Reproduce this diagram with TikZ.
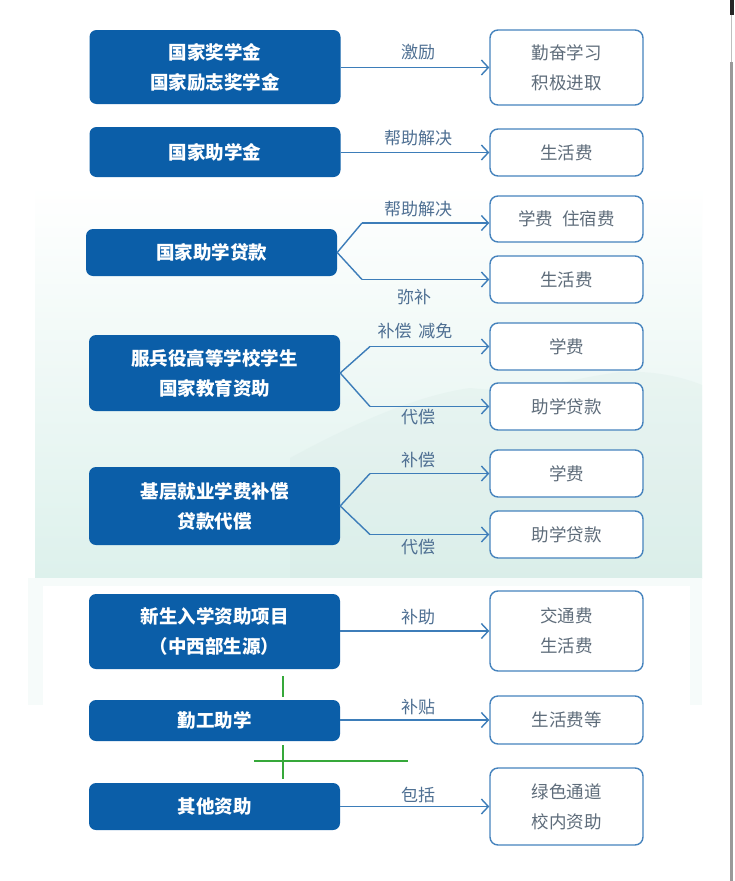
\documentclass[tikz,border=0pt]{standalone}
\usepackage{fontspec}
\setmainfont{Noto Sans CJK SC}
\usetikzlibrary{arrows.meta}
\definecolor{lblue}{HTML}{0B5EA8}
\definecolor{rborder}{HTML}{4683BD}
\definecolor{arrc}{HTML}{3D7DB9}
\definecolor{labc}{HTML}{4E6F92}
\definecolor{rtext}{HTML}{5E6C7A}
\definecolor{gline}{HTML}{36A83A}
\definecolor{mint}{HTML}{DDF1EC}
\definecolor{mintlt}{HTML}{F6FBFA}
\definecolor{hill}{HTML}{D3E6E2}
\begin{document}
\begin{tikzpicture}[x=1pt,y=-1pt,
  lbox/.style={fill=lblue, draw=none, rounded corners=7pt, text=white,
    font=\bfseries\fontsize{18.5}{30}\selectfont, align=center,
    minimum width=251pt, inner sep=0pt},
  rbox/.style={fill=white, draw=rborder, line width=1.4pt, rounded corners=8pt,
    text=rtext, font=\fontsize{17.5}{30}\selectfont, align=center,
    minimum width=153pt, inner sep=0pt},
  lab/.style={text=labc, font=\fontsize{17}{20}\selectfont, inner sep=0pt},
  arr/.style={draw=arrc, line width=1.4pt, -{Straight Barb[length=7pt,width=15pt,line width=1.4pt]}},
  gl/.style={draw=gline, line width=2pt}]
\useasboundingbox (0,0) rectangle (734,881);
\fill[white] (0,0) rectangle (734,881);
% background tint
\shade[top color=white, bottom color=mint] (35,185) rectangle (702,578);
\fill[hill, opacity=0.22] (290,458) .. controls (360,420) and (420,395) .. (470,388) .. controls (530,395) and (560,380) .. (620,372) .. controls (660,370) and (690,380) .. (702,385) -- (702,578) -- (290,578) -- cycle;
\fill[mintlt] (28,578) rectangle (702,705);
\fill[white] (43,586) rectangle (690,881);
% right edge of screenshot
\fill[black!85] (730,0) rectangle (734,15);
\draw[black!25, line width=1pt] (731.5,15) -- (731.5,62);
\draw[black!40, line width=2.5pt] (731.5,62) -- (731.5,881);

% left boxes
\node[lbox, minimum height=74pt] (L1) at (215,67) {国家奖学金\\国家励志奖学金};
\node[lbox, minimum height=50pt] (L2) at (215,152) {国家助学金};
\node[lbox, minimum height=47pt] (L3) at (211.5,252.5) {国家助学贷款};
\node[lbox, minimum height=76pt] (L4) at (214.5,373) {服兵役高等学校学生\\国家教育资助};
\node[lbox, minimum height=78pt] (L5) at (214.5,506) {基层就业学费补偿\\贷款代偿};
\node[lbox, minimum height=75pt] (L6) at (214.5,631.5) {新生入学资助项目\\（中西部生源）};
\node[lbox, minimum height=41pt] (L7) at (214.5,720.5) {勤工助学};
\node[lbox, minimum height=47pt] (L8) at (214.5,806.5) {其他资助};

% right boxes
\node[rbox, minimum height=75pt] (R1) at (566.5,67.5) {勤奋学习\\积极进取};
\node[rbox, minimum height=47pt] (R2) at (566.5,152.5) {生活费};
\node[rbox, minimum height=46pt] (R3) at (566.5,219) {学费\hspace{0.5em}住宿费};
\node[rbox, minimum height=47pt] (R4) at (566.5,279.5) {生活费};
\node[rbox, minimum height=47pt] (R5) at (566.5,346.5) {学费};
\node[rbox, minimum height=47pt] (R6) at (566.5,406.5) {助学贷款};
\node[rbox, minimum height=47pt] (R7) at (566.5,473.5) {学费};
\node[rbox, minimum height=47pt] (R8) at (566.5,534.5) {助学贷款};
\node[rbox, minimum height=80pt] (R9) at (566.5,631) {交通费\\生活费};
\node[rbox, minimum height=48pt] (R10) at (566.5,720) {生活费等};
\node[rbox, minimum height=77pt] (R11) at (566.5,806.5) {绿色通道\\校内资助};

% connectors
\draw[arr] (L1.east |- R1.west) -- (R1.west);
\draw[arr] (L2.east |- R2.west) -- (R2.west);
\draw[arr, -] (L3.east) -- (362,223);
\draw[arr] (362,223) -- (R3.west |- 0,223);
\draw[arr, -] (L3.east) -- (362,279.5);
\draw[arr] (362,279.5) -- (R4.west);
\draw[arr, -] (L4.east) -- (370,346.5);
\draw[arr] (370,346.5) -- (R5.west);
\draw[arr, -] (L4.east) -- (370,406.5);
\draw[arr] (370,406.5) -- (R6.west);
\draw[arr, -] (L5.east) -- (370,473.5);
\draw[arr] (370,473.5) -- (R7.west);
\draw[arr, -] (L5.east) -- (370,534.5);
\draw[arr] (370,534.5) -- (R8.west);
\draw[arr] (L6.east |- R9.west) -- (R9.west);
\draw[arr] (L7.east |- R10.west) -- (R10.west);
\draw[arr] (L8.east |- R11.west) -- (R11.west);

% labels
\node[lab] (t1) at (418,52) {激励};
\node[lab] (t2) at (418,138) {帮助解决};
\node[lab] (t3) at (418,209) {帮助解决};
\node[lab] (t4) at (414,297) {弥补};
\node[lab] (t5) at (415,331) {补偿\hspace{0.4em}减免};
\node[lab] (t6) at (418,417) {代偿};
\node[lab] (t7) at (418,460) {补偿};
\node[lab] (t8) at (418,547) {代偿};
\node[lab] (t9) at (418,617) {补助};
\node[lab] (t10) at (418,707) {补贴};
\node[lab] (t11) at (418,795) {包括};

% green marks
\draw[gl] (283,676) -- (283,697);
\draw[gl] (283,745) -- (283,779);
\draw[gl] (254,761) -- (408,761);
\end{tikzpicture}
\end{document}
